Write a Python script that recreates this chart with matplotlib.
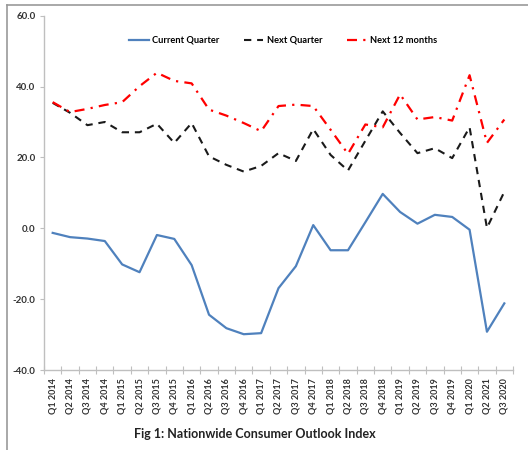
import matplotlib
matplotlib.use("Agg")
import matplotlib.pyplot as plt
from matplotlib.lines import Line2D
import numpy as np

quarters = ["Q1 2014", "Q2 2014", "Q3 2014", "Q4 2014",
            "Q1 2015", "Q2 2015", "Q3 2015", "Q4 2015",
            "Q1 2016", "Q2 2016", "Q3 2016", "Q4 2016",
            "Q1 2017", "Q2 2017", "Q3 2017", "Q4 2017",
            "Q1 2018", "Q2 2018", "Q3 2018", "Q4 2018",
            "Q1 2019", "Q2 2019", "Q3 2019", "Q4 2019",
            "Q1 2020", "Q2 2021", "Q3 2020"]

current_quarter = [-1.3, -2.5, -2.9, -3.6, -10.2, -12.4, -1.9, -3.0, -10.4, -24.4,
                   -28.2, -29.9, -29.6, -16.9, -10.7, 0.9, -6.2, -6.2, 1.7, 9.7,
                   4.6, 1.3, 3.8, 3.2, -0.4, -29.2, -21.2]
next_quarter = [35.4, 32.6, 29.1, 30.0, 27.1, 27.1, 29.5, 24.1, 29.7, 20.3,
                17.9, 16.0, 17.6, 21.2, 19.0, 28.0, 20.7, 16.3, 24.7, 33.0,
                26.9, 21.2, 22.6, 19.8, 28.5, 0.1, 10.3]
next_12_months = [35.6, 32.8, 33.7, 34.8, 35.6, 40.1, 43.9, 41.6, 40.9, 33.5,
                  31.8, 29.7, 27.4, 34.5, 34.9, 34.5, 27.8, 21.0, 29.3, 28.5,
                  37.8, 30.7, 31.4, 30.4, 43.2, 24.1, 30.7]

series_names = ["Current Quarter", "Next Quarter", "Next 12 months"]
y_ticks = [-40, -20, 0, 20, 40, 60]
title = "Fig 1: Nationwide Consumer Outlook Index"

plt.rcParams['font.family'] = ['Lato', 'DejaVu Sans']

fig = plt.figure(figsize=(5.28, 4.5), dpi=100)
ax = fig.add_axes([44/528, 1-370/450, (513-44)/528, (370-15.7)/450])

x = np.arange(len(quarters))
ax.plot(x, current_quarter, color="#4F81BD", lw=1.6, solid_joinstyle="round",
        label=series_names[0])
ax.plot(x, next_quarter, color="#1a1a1a", lw=1.5, linestyle=(0, (3.5, 2.8)),
        label=series_names[1])
ax.plot(x, next_12_months, color="#FF0000", lw=1.6, linestyle=(0, (4.5, 2.8, 1, 2.8)),
        label=series_names[2])

ax.set_xlim(-0.5, len(quarters) - 0.5)
ax.set_ylim(-40, 60)
ax.set_yticks(y_ticks)
ax.set_yticklabels([f"{v:.1f}" for v in y_ticks], fontsize=7, fontweight="bold",
                   color="#333333")
ax.tick_params(axis="y", length=3, width=0.8, color="#BFBFBF", pad=3)

ax.set_xticks(x)
ax.set_xticklabels(quarters, rotation=90, fontsize=6.5, fontweight="bold",
                   color="#333333")
ax.tick_params(axis="x", which="major", length=0, pad=6)
ax.set_xticks(np.arange(-0.5, len(quarters)), minor=True)
ax.tick_params(axis="x", which="minor", length=6, direction="inout", width=0.8,
               color="#BFBFBF")

for s in ["top", "right"]:
    ax.spines[s].set_visible(False)
for s in ["left", "bottom"]:
    ax.spines[s].set_color("#BFBFBF")
    ax.spines[s].set_linewidth(1.0)

leg = ax.legend(loc="upper center", bbox_to_anchor=(0.51, 0.967), ncol=3,
                frameon=False, fontsize=6.7, handlelength=2.1, columnspacing=2.6,
                handletextpad=0.4)
for t in leg.get_texts():
    t.set_fontweight("bold")

fig.text(255/528, 1-434/450, title, ha="center", va="center", fontsize=9,
         fontweight="bold", color="#222222")

# outer frame lines (partially visible border)
fig.add_artist(Line2D([7/528, 7/528], [0, 1-5/450], transform=fig.transFigure,
                      color="#999999", lw=1.2))
fig.add_artist(Line2D([7/528, 1], [1-5/450, 1-5/450], transform=fig.transFigure,
                      color="#999999", lw=1.2))

fig.savefig("out.png", dpi=100)
